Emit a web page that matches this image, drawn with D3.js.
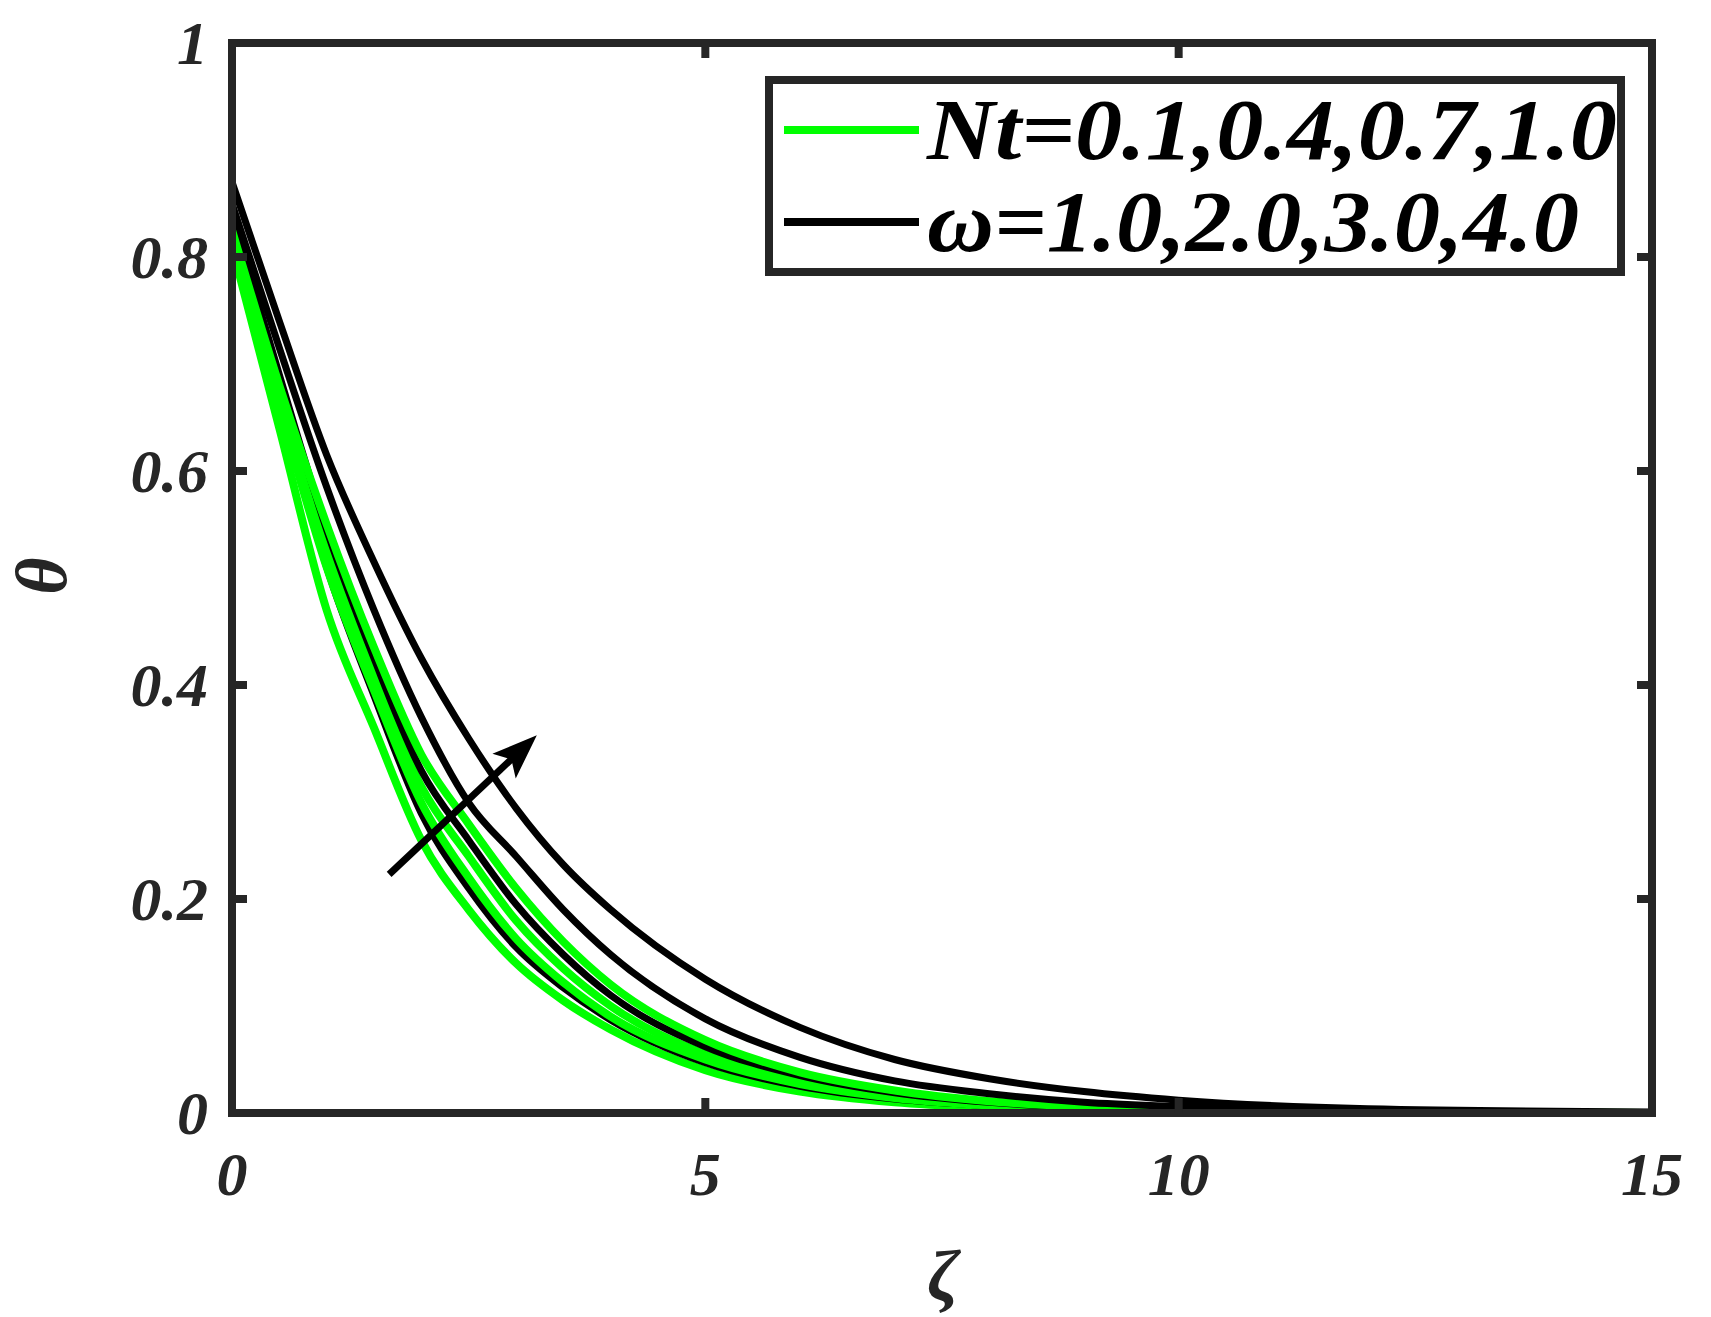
<!DOCTYPE html>
<html><head><meta charset="utf-8">
<script src="https://cdn.jsdelivr.net/npm/d3@7"></script>
<style>body{margin:0;background:#fff}svg{display:block}</style>
</head><body>
<script>
const zeta = [0,0.5,1,1.5,2,2.5,3,3.5,4,5,6,7,8,9,10,12,15];
const green1 = [.81,.64,.47,.36,.255,.19,.14,.105,.078,.04,.02,.01,.005,.002,.001,0,0];
const green2 = [.815,.66,.51,.395,.29,.22,.163,.122,.09,.05,.027,.014,.007,.003,.0015,0,0];
const green3 = [.82,.67,.53,.41,.305,.24,.18,.135,.1,.055,.03,.016,.008,.004,.002,.0005,0];
const green4 = [.825,.68,.55,.435,.335,.27,.21,.16,.12,.068,.038,.021,.011,.006,.003,.001,0];
const black1 = [.83,.67,.51,.39,.28,.21,.155,.117,.087,.047,.025,.013,.007,.003,.0015,0,0];
const black2 = [.84,.69,.545,.425,.32,.255,.195,.148,.11,.062,.035,.019,.01,.005,.0025,.0006,0];
const black3 = [.85,.715,.585,.47,.37,.29,.24,.19,.148,.088,.052,.03,.018,.01,.006,.002,0];
const black4 = [.87,.74,.615,.515,.425,.35,.285,.232,.19,.125,.08,.05,.032,.02,.012,.004,.001];
const xTicks = [0,5,10,15];
const yTicks = [0,0.2,0.4,0.6,0.8,1];
const yTickLabels = ["0","0.2","0.4","0.6","0.8","1"];
const legendLabels = ["Nt=0.1,0.4,0.7,1.0","ω=1.0,2.0,3.0,4.0"];
const arrowPts = [[1.66,0.223],[3.22,0.353]];

const W=1711,H=1317, L=232,R=1652,T=43,B=1113;
const svg=d3.select("body").append("svg").attr("width",W).attr("height",H);
const x=d3.scaleLinear().domain([0,15]).range([L,R]);
const y=d3.scaleLinear().domain([0,1]).range([B,T]);
const axc="#262626";
const font="'Liberation Serif','Times New Roman',serif";

const line=d3.line().x((d,i)=>x(zeta[i])).y(d=>y(d)).curve(d3.curveMonotoneX);
const series=[[green1,"#00ff00"],[green2,"#00ff00"],[green3,"#00ff00"],[green4,"#00ff00"],
              [black1,"#000"],[black2,"#000"],[black3,"#000"],[black4,"#000"]];
svg.append("defs").append("clipPath").attr("id","c").append("rect")
  .attr("x",L).attr("y",T).attr("width",R-L).attr("height",B-T);
const g=svg.append("g").attr("clip-path","url(#c)");
// draw interleaved order
[green1,black1,green2,green3,black2,green4,black3,black4].forEach(s=>{
  const c = [green1,green2,green3,green4].includes(s)?"#00ff00":"#000";
  g.append("path").attr("d",line(s)).attr("fill","none").attr("stroke",c).attr("stroke-width",c==="#000"?7:8);
});

// arrow
const [a0,a1]=arrowPts;
const x0=x(a0[0]),y0=y(a0[1]),x1=x(a1[0]),y1=y(a1[1]);
const ang=Math.atan2(y1-y0,x1-x0);
svg.append("line").attr("x1",x0).attr("y1",y0).attr("x2",x1-20*Math.cos(ang)).attr("y2",y1-20*Math.sin(ang))
  .attr("stroke","#000").attr("stroke-width",7);
const hl=45,hw=17;
const bx=x1-hl*Math.cos(ang), by=y1-hl*Math.sin(ang);
svg.append("polygon").attr("points",[[x1,y1],[bx+hw*Math.sin(ang),by-hw*Math.cos(ang)],[bx+10*Math.cos(ang),by+10*Math.sin(ang)],[bx-hw*Math.sin(ang),by+hw*Math.cos(ang)]].map(p=>p.join(",")).join(" "))
  .attr("fill","#000");

// axes box
svg.append("rect").attr("x",L).attr("y",T).attr("width",R-L).attr("height",B-T)
  .attr("fill","none").attr("stroke",axc).attr("stroke-width",8);
const tl=15;
xTicks.forEach(t=>{
  svg.append("line").attr("x1",x(t)).attr("x2",x(t)).attr("y1",B).attr("y2",B-tl).attr("stroke",axc).attr("stroke-width",8);
  svg.append("line").attr("x1",x(t)).attr("x2",x(t)).attr("y1",T).attr("y2",T+tl).attr("stroke",axc).attr("stroke-width",8);
  svg.append("text").attr("x",x(t)).attr("y",B+82).attr("text-anchor","middle")
    .attr("font-family",font).attr("font-weight","bold").attr("font-style","italic").attr("font-size",62).attr("fill",axc).text(t);
});
yTicks.forEach((t,i)=>{
  svg.append("line").attr("x1",L).attr("x2",L+tl).attr("y1",y(t)).attr("y2",y(t)).attr("stroke",axc).attr("stroke-width",8);
  svg.append("line").attr("x1",R).attr("x2",R-tl).attr("y1",y(t)).attr("y2",y(t)).attr("stroke",axc).attr("stroke-width",8);
  svg.append("text").attr("x",L-24).attr("y",y(t)+21).attr("text-anchor","end")
    .attr("font-family",font).attr("font-weight","bold").attr("font-style","italic").attr("font-size",62).attr("fill",axc).text(yTickLabels[i]);
});
// axis labels
svg.append("text").attr("transform","translate(66,576) rotate(-90)").attr("text-anchor","middle")
  .attr("font-family",font).attr("font-weight","bold").attr("font-style","italic").attr("font-size",72).attr("fill",axc).text("θ");
svg.append("text").attr("x",943).attr("y",1300).attr("text-anchor","middle")
  .attr("font-family",font).attr("font-weight","bold").attr("font-style","italic").attr("font-size",72).attr("fill",axc).text("ζ");

// legend
svg.append("rect").attr("x",769).attr("y",80).attr("width",852).attr("height",192)
  .attr("fill","#fff").attr("stroke",axc).attr("stroke-width",8);
const lcol=["#00ff00","#000"], ly=[130,222], lens=[690,652];
legendLabels.forEach((s,i)=>{
  svg.append("line").attr("x1",784).attr("x2",919).attr("y1",ly[i]).attr("y2",ly[i]).attr("stroke",lcol[i]).attr("stroke-width",8);
  svg.append("text").attr("x",927).attr("y",ly[i]+29).attr("textLength",lens[i]).attr("lengthAdjust","spacingAndGlyphs")
    .attr("font-family",font).attr("font-weight","bold").attr("font-style","italic").attr("font-size",86).attr("fill","#000").text(s);
});
</script>
</body></html>
